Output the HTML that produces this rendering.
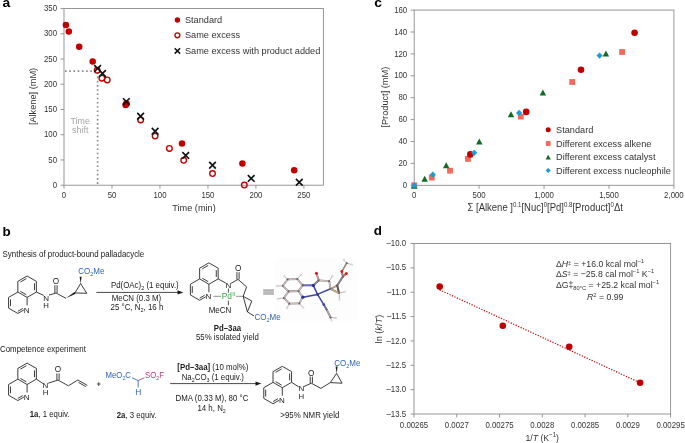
<!DOCTYPE html>
<html><head><meta charset="utf-8"><style>
html,body{margin:0;padding:0;background:#fff;}
body{width:685px;height:443px;overflow:hidden;}
svg{display:block;font-family:"Liberation Sans",sans-serif;will-change:transform;}
</style></head><body>
<svg width="685" height="443" viewBox="0 0 685 443">
<rect width="685" height="443" fill="#fff"/>
<rect x="64.0" y="8.55" width="259.4" height="176.64999999999998" fill="none" stroke="#8c8c8c" stroke-width="0.9"/>
<line x1="60.50" y1="185.20" x2="64.00" y2="185.20" stroke="#8c8c8c" stroke-width="0.9" />
<text transform="translate(57.00,187.80) scale(0.87,1)" font-size="9" text-anchor="end" fill="#333">0</text>
<line x1="60.50" y1="159.96" x2="64.00" y2="159.96" stroke="#8c8c8c" stroke-width="0.9" />
<text transform="translate(57.00,162.56) scale(0.87,1)" font-size="9" text-anchor="end" fill="#333">50</text>
<line x1="60.50" y1="134.73" x2="64.00" y2="134.73" stroke="#8c8c8c" stroke-width="0.9" />
<text transform="translate(57.00,137.33) scale(0.87,1)" font-size="9" text-anchor="end" fill="#333">100</text>
<line x1="60.50" y1="109.49" x2="64.00" y2="109.49" stroke="#8c8c8c" stroke-width="0.9" />
<text transform="translate(57.00,112.09) scale(0.87,1)" font-size="9" text-anchor="end" fill="#333">150</text>
<line x1="60.50" y1="84.26" x2="64.00" y2="84.26" stroke="#8c8c8c" stroke-width="0.9" />
<text transform="translate(57.00,86.86) scale(0.87,1)" font-size="9" text-anchor="end" fill="#333">200</text>
<line x1="60.50" y1="59.02" x2="64.00" y2="59.02" stroke="#8c8c8c" stroke-width="0.9" />
<text transform="translate(57.00,61.62) scale(0.87,1)" font-size="9" text-anchor="end" fill="#333">250</text>
<line x1="60.50" y1="33.79" x2="64.00" y2="33.79" stroke="#8c8c8c" stroke-width="0.9" />
<text transform="translate(57.00,36.39) scale(0.87,1)" font-size="9" text-anchor="end" fill="#333">300</text>
<line x1="60.50" y1="8.55" x2="64.00" y2="8.55" stroke="#8c8c8c" stroke-width="0.9" />
<text transform="translate(57.00,11.15) scale(0.87,1)" font-size="9" text-anchor="end" fill="#333">350</text>
<line x1="64.00" y1="185.20" x2="64.00" y2="188.70" stroke="#8c8c8c" stroke-width="0.9" />
<text transform="translate(64.00,198.20) scale(0.87,1)" font-size="9" text-anchor="middle" fill="#333">0</text>
<line x1="111.98" y1="185.20" x2="111.98" y2="188.70" stroke="#8c8c8c" stroke-width="0.9" />
<text transform="translate(111.98,198.20) scale(0.87,1)" font-size="9" text-anchor="middle" fill="#333">50</text>
<line x1="159.96" y1="185.20" x2="159.96" y2="188.70" stroke="#8c8c8c" stroke-width="0.9" />
<text transform="translate(159.96,198.20) scale(0.87,1)" font-size="9" text-anchor="middle" fill="#333">100</text>
<line x1="207.94" y1="185.20" x2="207.94" y2="188.70" stroke="#8c8c8c" stroke-width="0.9" />
<text transform="translate(207.94,198.20) scale(0.87,1)" font-size="9" text-anchor="middle" fill="#333">150</text>
<line x1="255.92" y1="185.20" x2="255.92" y2="188.70" stroke="#8c8c8c" stroke-width="0.9" />
<text transform="translate(255.92,198.20) scale(0.87,1)" font-size="9" text-anchor="middle" fill="#333">200</text>
<line x1="303.90" y1="185.20" x2="303.90" y2="188.70" stroke="#8c8c8c" stroke-width="0.9" />
<text transform="translate(303.90,198.20) scale(0.87,1)" font-size="9" text-anchor="middle" fill="#333">250</text>
<text transform="translate(194.00,211.00) scale(0.9300,1)" font-size="9.90" text-anchor="middle" fill="#333" >Time (min)</text>
<text transform="translate(36.2,96.5) rotate(-90) scale(0.9300,1)" font-size="9.90" text-anchor="middle" fill="#333">[Alkene] (mM)</text>
<path d="M65.0,71.1 H97.6 V185.2" fill="none" stroke="#888" stroke-width="1.6" stroke-dasharray="1.6 2.63"/>
<text transform="translate(80.20,124.20) scale(0.9300,1)" font-size="9.57" text-anchor="middle" fill="#a6a6a6" >Time</text>
<text transform="translate(80.20,133.40) scale(0.9300,1)" font-size="9.57" text-anchor="middle" fill="#a6a6a6" >shift</text>
<circle cx="65.90" cy="24.90" r="3.25" fill="#c00000"/>
<circle cx="68.80" cy="31.45" r="3.25" fill="#c00000"/>
<circle cx="79.20" cy="46.70" r="3.25" fill="#c00000"/>
<circle cx="92.70" cy="61.60" r="3.25" fill="#c00000"/>
<circle cx="125.60" cy="105.00" r="3.25" fill="#c00000"/>
<circle cx="182.00" cy="143.50" r="3.25" fill="#c00000"/>
<circle cx="242.40" cy="163.60" r="3.25" fill="#c00000"/>
<circle cx="294.20" cy="170.20" r="3.25" fill="#c00000"/>
<circle cx="97.20" cy="70.30" r="2.8" fill="none" stroke="#c00000" stroke-width="1.35"/>
<circle cx="101.90" cy="78.20" r="2.8" fill="none" stroke="#c00000" stroke-width="1.35"/>
<circle cx="107.20" cy="79.90" r="2.8" fill="none" stroke="#c00000" stroke-width="1.35"/>
<circle cx="126.40" cy="103.80" r="2.8" fill="none" stroke="#c00000" stroke-width="1.35"/>
<circle cx="140.60" cy="119.90" r="2.8" fill="none" stroke="#c00000" stroke-width="1.35"/>
<circle cx="155.10" cy="136.10" r="2.8" fill="none" stroke="#c00000" stroke-width="1.35"/>
<circle cx="169.40" cy="148.40" r="2.8" fill="none" stroke="#c00000" stroke-width="1.35"/>
<circle cx="183.70" cy="160.30" r="2.8" fill="none" stroke="#c00000" stroke-width="1.35"/>
<circle cx="212.50" cy="173.50" r="2.8" fill="none" stroke="#c00000" stroke-width="1.35"/>
<circle cx="244.30" cy="185.00" r="2.8" fill="none" stroke="#c00000" stroke-width="1.35"/>
<path d="M94.25,65.05L100.95,71.75M100.95,65.05L94.25,71.75" stroke="#111" stroke-width="1.65"/>
<path d="M99.15,70.15L105.85,76.85M105.85,70.15L99.15,76.85" stroke="#111" stroke-width="1.65"/>
<path d="M122.95,98.25L129.65,104.95M129.65,98.25L122.95,104.95" stroke="#111" stroke-width="1.65"/>
<path d="M137.25,112.95L143.95,119.65M143.95,112.95L137.25,119.65" stroke="#111" stroke-width="1.65"/>
<path d="M151.75,127.85L158.45,134.55M158.45,127.85L151.75,134.55" stroke="#111" stroke-width="1.65"/>
<path d="M182.35,152.05L189.05,158.75M189.05,152.05L182.35,158.75" stroke="#111" stroke-width="1.65"/>
<path d="M209.15,161.85L215.85,168.55M215.85,161.85L209.15,168.55" stroke="#111" stroke-width="1.65"/>
<path d="M247.85,175.05L254.55,181.75M254.55,175.05L247.85,181.75" stroke="#111" stroke-width="1.65"/>
<path d="M295.95,178.95L302.65,185.65M302.65,178.95L295.95,185.65" stroke="#111" stroke-width="1.65"/>
<circle cx="177.40" cy="20.00" r="2.7" fill="#c00000"/>
<text transform="translate(184.90,23.10) scale(0.9300,1)" font-size="9.90" text-anchor="start" fill="#333" >Standard</text>
<circle cx="177.40" cy="35.30" r="2.45" fill="none" stroke="#c00000" stroke-width="1.3"/>
<text transform="translate(184.90,38.10) scale(0.9300,1)" font-size="9.90" text-anchor="start" fill="#333" >Same excess</text>
<path d="M174.70,48.20L180.10,53.60M180.10,48.20L174.70,53.60" stroke="#111" stroke-width="1.5"/>
<text transform="translate(184.90,54.00) scale(0.9300,1)" font-size="9.90" text-anchor="start" fill="#333" >Same excess with product added</text>
<rect x="414.2" y="10.1" width="259.7" height="175.20000000000002" fill="none" stroke="#8c8c8c" stroke-width="0.9"/>
<line x1="410.70" y1="185.30" x2="414.20" y2="185.30" stroke="#8c8c8c" stroke-width="0.9" />
<text transform="translate(407.20,187.90) scale(0.87,1)" font-size="9" text-anchor="end" fill="#333">0</text>
<line x1="410.70" y1="163.40" x2="414.20" y2="163.40" stroke="#8c8c8c" stroke-width="0.9" />
<text transform="translate(407.20,166.00) scale(0.87,1)" font-size="9" text-anchor="end" fill="#333">20</text>
<line x1="410.70" y1="141.50" x2="414.20" y2="141.50" stroke="#8c8c8c" stroke-width="0.9" />
<text transform="translate(407.20,144.10) scale(0.87,1)" font-size="9" text-anchor="end" fill="#333">40</text>
<line x1="410.70" y1="119.60" x2="414.20" y2="119.60" stroke="#8c8c8c" stroke-width="0.9" />
<text transform="translate(407.20,122.20) scale(0.87,1)" font-size="9" text-anchor="end" fill="#333">60</text>
<line x1="410.70" y1="97.70" x2="414.20" y2="97.70" stroke="#8c8c8c" stroke-width="0.9" />
<text transform="translate(407.20,100.30) scale(0.87,1)" font-size="9" text-anchor="end" fill="#333">80</text>
<line x1="410.70" y1="75.80" x2="414.20" y2="75.80" stroke="#8c8c8c" stroke-width="0.9" />
<text transform="translate(407.20,78.40) scale(0.87,1)" font-size="9" text-anchor="end" fill="#333">100</text>
<line x1="410.70" y1="53.90" x2="414.20" y2="53.90" stroke="#8c8c8c" stroke-width="0.9" />
<text transform="translate(407.20,56.50) scale(0.87,1)" font-size="9" text-anchor="end" fill="#333">120</text>
<line x1="410.70" y1="32.00" x2="414.20" y2="32.00" stroke="#8c8c8c" stroke-width="0.9" />
<text transform="translate(407.20,34.60) scale(0.87,1)" font-size="9" text-anchor="end" fill="#333">140</text>
<line x1="410.70" y1="10.10" x2="414.20" y2="10.10" stroke="#8c8c8c" stroke-width="0.9" />
<text transform="translate(407.20,12.70) scale(0.87,1)" font-size="9" text-anchor="end" fill="#333">160</text>
<line x1="414.20" y1="185.30" x2="414.20" y2="188.80" stroke="#8c8c8c" stroke-width="0.9" />
<text transform="translate(414.20,198.40) scale(0.87,1)" font-size="9" text-anchor="middle" fill="#333">0</text>
<line x1="479.12" y1="185.30" x2="479.12" y2="188.80" stroke="#8c8c8c" stroke-width="0.9" />
<text transform="translate(479.12,198.40) scale(0.87,1)" font-size="9" text-anchor="middle" fill="#333">500</text>
<line x1="544.05" y1="185.30" x2="544.05" y2="188.80" stroke="#8c8c8c" stroke-width="0.9" />
<text transform="translate(544.05,198.40) scale(0.87,1)" font-size="9" text-anchor="middle" fill="#333">1,000</text>
<line x1="608.98" y1="185.30" x2="608.98" y2="188.80" stroke="#8c8c8c" stroke-width="0.9" />
<text transform="translate(608.98,198.40) scale(0.87,1)" font-size="9" text-anchor="middle" fill="#333">1,500</text>
<line x1="673.90" y1="185.30" x2="673.90" y2="188.80" stroke="#8c8c8c" stroke-width="0.9" />
<text transform="translate(673.90,198.40) scale(0.87,1)" font-size="9" text-anchor="middle" fill="#333">2,000</text>
<text transform="translate(545.2,210.5) scale(0.9300,1)" font-size="10.23" text-anchor="middle" fill="#333">Σ [Alkene ]<tspan font-size="6.60" dy="-3.85">0.1</tspan><tspan dy="3.85">[Nuc]</tspan><tspan font-size="6.60" dy="-3.85">0</tspan><tspan dy="3.85">[Pd]</tspan><tspan font-size="6.60" dy="-3.85">0.8</tspan><tspan dy="3.85">[Product]</tspan><tspan font-size="6.60" dy="-3.85">0</tspan><tspan dy="3.85">Δt</tspan></text>
<text transform="translate(387.9,97.2) rotate(-90) scale(0.9300,1)" font-size="9.90" text-anchor="middle" fill="#333">[Product] (mM)</text>
<rect x="411.30" y="182.40" width="5.8" height="5.8" fill="#f4695c"/>
<rect x="428.90" y="174.70" width="5.8" height="5.8" fill="#f4695c"/>
<rect x="447.10" y="167.80" width="5.8" height="5.8" fill="#f4695c"/>
<rect x="465.00" y="156.00" width="5.8" height="5.8" fill="#f4695c"/>
<rect x="517.90" y="113.70" width="5.8" height="5.8" fill="#f4695c"/>
<rect x="569.30" y="79.10" width="5.8" height="5.8" fill="#f4695c"/>
<rect x="619.20" y="49.10" width="5.8" height="5.8" fill="#f4695c"/>
<path d="M414.20,182.75L417.45,188.76L410.95,188.76Z" fill="#126b22"/>
<path d="M424.70,175.75L427.95,181.76L421.45,181.76Z" fill="#126b22"/>
<path d="M446.20,162.35L449.45,168.36L442.95,168.36Z" fill="#126b22"/>
<path d="M479.30,138.55L482.55,144.56L476.05,144.56Z" fill="#126b22"/>
<path d="M511.00,111.35L514.25,117.36L507.75,117.36Z" fill="#126b22"/>
<path d="M542.90,89.55L546.15,95.56L539.65,95.56Z" fill="#126b22"/>
<path d="M605.90,50.45L609.15,56.46L602.65,56.46Z" fill="#126b22"/>
<circle cx="470.30" cy="154.40" r="3.3" fill="#c00000"/>
<circle cx="526.20" cy="111.90" r="3.3" fill="#c00000"/>
<circle cx="581.00" cy="69.80" r="3.3" fill="#c00000"/>
<circle cx="634.60" cy="32.80" r="3.3" fill="#c00000"/>
<path d="M414.30,182.50L417.40,185.60L414.30,188.70L411.20,185.60Z" fill="#1b9bd8"/>
<path d="M432.80,171.60L435.90,174.70L432.80,177.80L429.70,174.70Z" fill="#1b9bd8"/>
<path d="M474.20,149.70L477.30,152.80L474.20,155.90L471.10,152.80Z" fill="#1b9bd8"/>
<path d="M519.10,109.80L522.20,112.90L519.10,116.00L516.00,112.90Z" fill="#1b9bd8"/>
<path d="M599.60,52.50L602.70,55.60L599.60,58.70L596.50,55.60Z" fill="#1b9bd8"/>
<circle cx="548.20" cy="129.80" r="2.5" fill="#c00000"/>
<text transform="translate(556.00,133.00) scale(0.9300,1)" font-size="9.90" text-anchor="start" fill="#333" >Standard</text>
<rect x="545.80" y="141.10" width="4.8" height="4.8" fill="#f4695c"/>
<text transform="translate(556.00,146.70) scale(0.9300,1)" font-size="9.90" text-anchor="start" fill="#333" >Different excess alkene</text>
<path d="M548.20,154.80L550.80,159.61L545.60,159.61Z" fill="#126b22"/>
<text transform="translate(556.00,160.40) scale(0.9300,1)" font-size="9.90" text-anchor="start" fill="#333" >Different excess catalyst</text>
<path d="M548.20,167.90L550.80,170.50L548.20,173.10L545.60,170.50Z" fill="#1b9bd8"/>
<text transform="translate(556.00,173.70) scale(0.9300,1)" font-size="9.90" text-anchor="start" fill="#333" >Different excess nucleophile</text>
<rect x="414.0" y="243.5" width="256.6" height="170.5" fill="none" stroke="#8c8c8c" stroke-width="0.9"/>
<line x1="410.50" y1="414.00" x2="414.00" y2="414.00" stroke="#8c8c8c" stroke-width="0.9" />
<text transform="translate(406.00,416.60) scale(0.87,1)" font-size="9" text-anchor="end" fill="#333">–13.5</text>
<line x1="410.50" y1="389.64" x2="414.00" y2="389.64" stroke="#8c8c8c" stroke-width="0.9" />
<text transform="translate(406.00,392.24) scale(0.87,1)" font-size="9" text-anchor="end" fill="#333">–13.0</text>
<line x1="410.50" y1="365.29" x2="414.00" y2="365.29" stroke="#8c8c8c" stroke-width="0.9" />
<text transform="translate(406.00,367.89) scale(0.87,1)" font-size="9" text-anchor="end" fill="#333">–12.5</text>
<line x1="410.50" y1="340.93" x2="414.00" y2="340.93" stroke="#8c8c8c" stroke-width="0.9" />
<text transform="translate(406.00,343.53) scale(0.87,1)" font-size="9" text-anchor="end" fill="#333">–12.0</text>
<line x1="410.50" y1="316.57" x2="414.00" y2="316.57" stroke="#8c8c8c" stroke-width="0.9" />
<text transform="translate(406.00,319.17) scale(0.87,1)" font-size="9" text-anchor="end" fill="#333">–11.5</text>
<line x1="410.50" y1="292.21" x2="414.00" y2="292.21" stroke="#8c8c8c" stroke-width="0.9" />
<text transform="translate(406.00,294.81) scale(0.87,1)" font-size="9" text-anchor="end" fill="#333">–11.0</text>
<line x1="410.50" y1="267.86" x2="414.00" y2="267.86" stroke="#8c8c8c" stroke-width="0.9" />
<text transform="translate(406.00,270.46) scale(0.87,1)" font-size="9" text-anchor="end" fill="#333">–10.5</text>
<line x1="410.50" y1="243.50" x2="414.00" y2="243.50" stroke="#8c8c8c" stroke-width="0.9" />
<text transform="translate(406.00,246.10) scale(0.87,1)" font-size="9" text-anchor="end" fill="#333">–10.0</text>
<line x1="414.00" y1="414.00" x2="414.00" y2="417.50" stroke="#8c8c8c" stroke-width="0.9" />
<text transform="translate(414.00,427.60) scale(0.87,1)" font-size="9" text-anchor="middle" fill="#333">0.00265</text>
<line x1="456.77" y1="414.00" x2="456.77" y2="417.50" stroke="#8c8c8c" stroke-width="0.9" />
<text transform="translate(456.77,427.60) scale(0.87,1)" font-size="9" text-anchor="middle" fill="#333">0.0027</text>
<line x1="499.53" y1="414.00" x2="499.53" y2="417.50" stroke="#8c8c8c" stroke-width="0.9" />
<text transform="translate(499.53,427.60) scale(0.87,1)" font-size="9" text-anchor="middle" fill="#333">0.00275</text>
<line x1="542.30" y1="414.00" x2="542.30" y2="417.50" stroke="#8c8c8c" stroke-width="0.9" />
<text transform="translate(542.30,427.60) scale(0.87,1)" font-size="9" text-anchor="middle" fill="#333">0.0028</text>
<line x1="585.07" y1="414.00" x2="585.07" y2="417.50" stroke="#8c8c8c" stroke-width="0.9" />
<text transform="translate(585.07,427.60) scale(0.87,1)" font-size="9" text-anchor="middle" fill="#333">0.00285</text>
<line x1="627.83" y1="414.00" x2="627.83" y2="417.50" stroke="#8c8c8c" stroke-width="0.9" />
<text transform="translate(627.83,427.60) scale(0.87,1)" font-size="9" text-anchor="middle" fill="#333">0.0029</text>
<line x1="670.60" y1="414.00" x2="670.60" y2="417.50" stroke="#8c8c8c" stroke-width="0.9" />
<text transform="translate(670.60,427.60) scale(0.87,1)" font-size="9" text-anchor="middle" fill="#333">0.00295</text>
<text transform="translate(542.2,441.2) scale(0.9300,1)" font-size="9.35" text-anchor="middle" fill="#333">1/<tspan font-style="italic">T</tspan> (K<tspan font-size="6.60" dy="-3.85">−1</tspan><tspan dy="3.85">)</tspan></text>
<text transform="translate(382.1,329.1) rotate(-90) scale(0.9300,1)" font-size="9.90" text-anchor="middle" fill="#333">ln (<tspan font-style="italic">k</tspan>/<tspan font-style="italic">T</tspan>)</text>
<line x1="439.7" y1="289.9" x2="640.1" y2="382.8" stroke="#c00000" stroke-width="1.2" stroke-dasharray="1.2 1.5"/>
<circle cx="439.70" cy="286.60" r="3.3" fill="#c00000"/>
<circle cx="502.80" cy="325.70" r="3.3" fill="#c00000"/>
<circle cx="569.20" cy="346.70" r="3.3" fill="#c00000"/>
<circle cx="640.10" cy="382.80" r="3.3" fill="#c00000"/>
<text transform="translate(555.9,266.8) scale(0.9630,1)" font-size="9.07" fill="#333">Δ<tspan font-style="italic">H</tspan><tspan font-size="6.05" dy="-1.94">‡</tspan><tspan dy="1.94"> = +16.0 kcal mol</tspan><tspan font-size="5.94" dy="-3.56">−1</tspan></text>
<text transform="translate(555.9,276.9) scale(0.9630,1)" font-size="9.07" fill="#333">Δ<tspan font-style="italic">S</tspan><tspan font-size="6.05" dy="-1.94">‡</tspan><tspan dy="1.94"> = −25.8 cal mol</tspan><tspan font-size="5.94" dy="-3.56">−1</tspan><tspan dy="3.56"> K</tspan><tspan font-size="5.94" dy="-3.56">−1</tspan></text>
<text transform="translate(555.9,287.6) scale(0.9630,1)" font-size="9.07" fill="#333">ΔG‡<tspan font-size="5.94" dy="2.81">80°C</tspan><tspan dy="-2.81"> = +25.2 kcal mol</tspan><tspan font-size="5.94" dy="-3.56">−1</tspan></text>
<text transform="translate(587,300.2) scale(0.9630,1)" font-size="9.07" fill="#333"><tspan font-style="italic">R</tspan><tspan font-size="5.94" dy="-3.56">2</tspan><tspan dy="3.56"> = 0.99</tspan></text>
<g transform="translate(2.4,6.9) scale(1.1,1)"><text font-size="12.6" font-weight="bold" fill="#000">a</text></g>
<g transform="translate(374.2,7.1) scale(1.1,1)"><text font-size="12.6" font-weight="bold" fill="#000">c</text></g>
<g transform="translate(2.6,235.9) scale(1.1,1)"><text font-size="12.2" font-weight="bold" fill="#000">b</text></g>
<g transform="translate(373.8,235.4) scale(1.1,1)"><text font-size="12.2" font-weight="bold" fill="#000">d</text></g>
<text transform="translate(2.60,256.70) scale(0.8929,1)" font-size="8.85" text-anchor="start" fill="#1a1a1a" >Synthesis of product-bound palladacycle</text>
<rect x="275.1" y="257.9" width="82" height="63" fill="#fdfdfd"/>
<path d="M27.10,276.00 L36.37,281.35 L36.37,292.05 L27.10,297.40 L17.83,292.05 L17.83,281.35 Z" fill="none" stroke="#1a1a1a" stroke-width="0.85" stroke-linejoin="round"/>
<path d="M17.83,292.05 L8.57,297.40 L8.57,308.10 L17.83,313.45" fill="none" stroke="#1a1a1a" stroke-width="0.85" stroke-linejoin="round"/>
<line x1="17.83" y1="313.45" x2="23.98" y2="309.90" stroke="#1a1a1a" stroke-width="0.85" />
<line x1="27.10" y1="297.40" x2="27.10" y2="305.40" stroke="#1a1a1a" stroke-width="0.85" />
<line x1="20.45" y1="282.03" x2="26.38" y2="278.61" stroke="#1a1a1a" stroke-width="0.85" />
<line x1="34.47" y1="283.28" x2="34.47" y2="290.12" stroke="#1a1a1a" stroke-width="0.85" />
<line x1="26.38" y1="294.79" x2="20.45" y2="291.37" stroke="#1a1a1a" stroke-width="0.85" />
<line x1="10.47" y1="299.33" x2="10.47" y2="306.17" stroke="#1a1a1a" stroke-width="0.85" />
<line x1="17.83" y1="311.30" x2="22.75" y2="308.46" stroke="#1a1a1a" stroke-width="0.85" />
<text x="26.70" y="312.50" font-size="8" text-anchor="middle" fill="#1a1a1a" >N</text>
<line x1="36.37" y1="292.05" x2="43.70" y2="295.40" stroke="#1a1a1a" stroke-width="0.85" />
<text x="46.20" y="301.40" font-size="8" text-anchor="middle" fill="#1a1a1a" >N</text>
<text x="46.10" y="308.00" font-size="7.8" text-anchor="middle" fill="#1a1a1a" >H</text>
<line x1="49.00" y1="295.10" x2="56.00" y2="293.00" stroke="#1a1a1a" stroke-width="0.85" />
<line x1="54.90" y1="293.00" x2="54.90" y2="285.20" stroke="#1a1a1a" stroke-width="0.85" />
<line x1="57.10" y1="293.00" x2="57.10" y2="285.20" stroke="#1a1a1a" stroke-width="0.85" />
<text x="55.90" y="283.90" font-size="8.2" text-anchor="middle" fill="#1a1a1a" >O</text>
<line x1="56.00" y1="293.00" x2="65.90" y2="298.30" stroke="#1a1a1a" stroke-width="0.85" />
<path d="M65.90,298.30 L75.56,293.85 L74.44,291.95 Z" fill="#1a1a1a"/>
<path d="M75.00,292.90 L80.60,283.50 L86.80,293.30 Z" fill="none" stroke="#1a1a1a" stroke-width="0.85" stroke-linejoin="round"/>
<path d="M80.60,283.50 L81.60,276.80 L79.60,276.80 Z" fill="#1a1a1a"/>
<text transform="translate(78.3,274.3) scale(0.8929,1)" font-size="8.96" fill="#2f62b5">CO<tspan font-size="6.16" dy="2.02">2</tspan><tspan dy="-2.02">Me</tspan></text>
<line x1="96.40" y1="292.40" x2="179.00" y2="292.40" stroke="#1a1a1a" stroke-width="0.8" />
<path d="M183.3,292.4 L177.5,290.3 L177.5,294.5 Z" fill="#1a1a1a"/>
<text transform="translate(110.9,288.3) scale(0.8929,1)" font-size="8.85" fill="#1a1a1a">Pd(OAc)<tspan font-size="6.16" dy="2.02">2</tspan><tspan dy="-2.02"> (1 equiv.)</tspan></text>
<text transform="translate(111.70,301.20) scale(0.8929,1)" font-size="8.85" text-anchor="start" fill="#1a1a1a" >MeCN (0.3 M)</text>
<text transform="translate(110.6,310) scale(0.8929,1)" font-size="8.85" fill="#1a1a1a">25 °C, N<tspan font-size="6.16" dy="2.02">2</tspan><tspan dy="-2.02">, 16 h</tspan></text>
<path d="M208.90,262.85 L218.17,268.20 L218.17,278.90 L208.90,284.25 L199.63,278.90 L199.63,268.20 Z" fill="none" stroke="#1a1a1a" stroke-width="0.85" stroke-linejoin="round"/>
<path d="M199.63,278.90 L190.37,284.25 L190.37,294.95 L199.63,300.30" fill="none" stroke="#1a1a1a" stroke-width="0.85" stroke-linejoin="round"/>
<line x1="199.63" y1="300.30" x2="205.78" y2="296.75" stroke="#1a1a1a" stroke-width="0.85" />
<line x1="208.90" y1="284.25" x2="208.90" y2="292.25" stroke="#1a1a1a" stroke-width="0.85" />
<line x1="202.25" y1="268.88" x2="208.18" y2="265.46" stroke="#1a1a1a" stroke-width="0.85" />
<line x1="216.27" y1="270.13" x2="216.27" y2="276.97" stroke="#1a1a1a" stroke-width="0.85" />
<line x1="208.18" y1="281.64" x2="202.25" y2="278.22" stroke="#1a1a1a" stroke-width="0.85" />
<line x1="192.27" y1="286.18" x2="192.27" y2="293.02" stroke="#1a1a1a" stroke-width="0.85" />
<line x1="199.63" y1="298.15" x2="204.55" y2="295.31" stroke="#1a1a1a" stroke-width="0.85" />
<text x="208.50" y="299.35" font-size="8" text-anchor="middle" fill="#1a1a1a" >N</text>
<line x1="218.17" y1="278.90" x2="225.80" y2="283.10" stroke="#1a1a1a" stroke-width="0.85" />
<text x="228.40" y="288.00" font-size="8" text-anchor="middle" fill="#1a1a1a" >N</text>
<line x1="231.10" y1="283.30" x2="238.00" y2="279.40" stroke="#1a1a1a" stroke-width="0.85" />
<line x1="236.90" y1="279.40" x2="236.90" y2="272.20" stroke="#1a1a1a" stroke-width="0.85" />
<line x1="239.10" y1="279.40" x2="239.10" y2="272.20" stroke="#1a1a1a" stroke-width="0.85" />
<text x="238.10" y="270.90" font-size="8.2" text-anchor="middle" fill="#1a1a1a" >O</text>
<line x1="238.00" y1="279.40" x2="246.60" y2="286.80" stroke="#1a1a1a" stroke-width="0.85" />
<line x1="246.60" y1="286.80" x2="243.20" y2="296.30" stroke="#1a1a1a" stroke-width="0.85" />
<line x1="213.30" y1="296.30" x2="221.00" y2="296.30" stroke="#777" stroke-width="0.8" />
<line x1="228.40" y1="288.60" x2="228.40" y2="292.60" stroke="#1a1a1a" stroke-width="0.75" />
<line x1="236.00" y1="296.30" x2="243.20" y2="296.30" stroke="#777" stroke-width="0.8" />
<text transform="translate(221.7,299.3) scale(0.8929,1)" font-size="9.41" fill="#3aa84a">Pd<tspan font-size="6.16" dy="-3.58" dx="0.4">II</tspan></text>
<line x1="228.40" y1="300.60" x2="228.40" y2="305.20" stroke="#1a1a1a" stroke-width="0.75" />
<text transform="translate(220.00,312.60) scale(0.8929,1)" font-size="8.96" text-anchor="middle" fill="#1a1a1a" >MeCN</text>
<path d="M243.20,296.30 L251.80,301.00 L247.40,311.90 Z" fill="none" stroke="#1a1a1a" stroke-width="0.85" stroke-linejoin="round"/>
<line x1="247.40" y1="311.90" x2="254.00" y2="316.00" stroke="#1a1a1a" stroke-width="0.85" />
<text transform="translate(254.5,320.1) scale(0.8929,1)" font-size="8.96" fill="#2f62b5">CO<tspan font-size="6.16" dy="2.02">2</tspan><tspan dy="-2.02">Me</tspan></text>
<text transform="translate(227.40,331.00) scale(0.8929,1)" font-size="8.74" text-anchor="middle" fill="#1a1a1a" font-weight="bold" >Pd–3aa</text>
<text transform="translate(227.40,340.20) scale(0.8929,1)" font-size="8.74" text-anchor="middle" fill="#1a1a1a" >55% isolated yield</text>
<line x1="263.20" y1="290.10" x2="273.90" y2="290.10" stroke="#959595" stroke-width="1.25" />
<line x1="263.20" y1="292.05" x2="273.90" y2="292.05" stroke="#959595" stroke-width="1.25" />
<line x1="263.20" y1="294.00" x2="273.90" y2="294.00" stroke="#959595" stroke-width="1.25" />
<line x1="287.70" y1="279.40" x2="284.30" y2="276.20" stroke="#b8aeae" stroke-width="0.9" stroke-linecap="round"/>
<circle cx="284.30" cy="276.20" r="0.9" fill="#f0eeee" stroke="#c4bcbc" stroke-width="0.4"/>
<line x1="297.30" y1="279.00" x2="300.80" y2="274.80" stroke="#b8aeae" stroke-width="0.9" stroke-linecap="round"/>
<circle cx="300.80" cy="274.80" r="0.9" fill="#f0eeee" stroke="#c4bcbc" stroke-width="0.4"/>
<line x1="282.80" y1="285.80" x2="276.80" y2="286.00" stroke="#b8aeae" stroke-width="0.9" stroke-linecap="round"/>
<circle cx="276.80" cy="286.00" r="0.9" fill="#f0eeee" stroke="#c4bcbc" stroke-width="0.4"/>
<line x1="283.90" y1="298.00" x2="277.90" y2="298.70" stroke="#b8aeae" stroke-width="0.9" stroke-linecap="round"/>
<circle cx="277.90" cy="298.70" r="0.9" fill="#f0eeee" stroke="#c4bcbc" stroke-width="0.4"/>
<line x1="289.30" y1="303.70" x2="287.00" y2="308.00" stroke="#b8aeae" stroke-width="0.9" stroke-linecap="round"/>
<circle cx="287.00" cy="308.00" r="0.9" fill="#f0eeee" stroke="#c4bcbc" stroke-width="0.4"/>
<line x1="299.30" y1="303.40" x2="303.10" y2="307.60" stroke="#b8aeae" stroke-width="0.9" stroke-linecap="round"/>
<circle cx="303.10" cy="307.60" r="0.9" fill="#f0eeee" stroke="#c4bcbc" stroke-width="0.4"/>
<line x1="329.20" y1="281.20" x2="332.50" y2="276.00" stroke="#b8aeae" stroke-width="0.9" stroke-linecap="round"/>
<circle cx="332.50" cy="276.00" r="0.9" fill="#f0eeee" stroke="#c4bcbc" stroke-width="0.4"/>
<line x1="339.10" y1="293.10" x2="344.80" y2="291.70" stroke="#b8aeae" stroke-width="0.9" stroke-linecap="round"/>
<circle cx="344.80" cy="291.70" r="0.9" fill="#f0eeee" stroke="#c4bcbc" stroke-width="0.4"/>
<line x1="339.10" y1="293.10" x2="339.60" y2="299.50" stroke="#b8aeae" stroke-width="0.9" stroke-linecap="round"/>
<circle cx="339.60" cy="299.50" r="0.9" fill="#f0eeee" stroke="#c4bcbc" stroke-width="0.4"/>
<line x1="346.70" y1="263.20" x2="343.90" y2="259.90" stroke="#b8aeae" stroke-width="0.9" stroke-linecap="round"/>
<circle cx="343.90" cy="259.90" r="0.9" fill="#f0eeee" stroke="#c4bcbc" stroke-width="0.4"/>
<line x1="346.70" y1="263.20" x2="352.00" y2="264.60" stroke="#b8aeae" stroke-width="0.9" stroke-linecap="round"/>
<circle cx="352.00" cy="264.60" r="0.9" fill="#f0eeee" stroke="#c4bcbc" stroke-width="0.4"/>
<line x1="330.50" y1="317.40" x2="335.90" y2="318.00" stroke="#b8aeae" stroke-width="0.9" stroke-linecap="round"/>
<circle cx="335.90" cy="318.00" r="0.9" fill="#f0eeee" stroke="#c4bcbc" stroke-width="0.4"/>
<line x1="330.50" y1="317.40" x2="331.50" y2="320.50" stroke="#b8aeae" stroke-width="0.9" stroke-linecap="round"/>
<circle cx="331.50" cy="320.50" r="0.9" fill="#f0eeee" stroke="#c4bcbc" stroke-width="0.4"/>
<line x1="287.70" y1="279.40" x2="297.30" y2="279.00" stroke="#8a8080" stroke-width="1.85" stroke-linecap="round"/>
<line x1="287.70" y1="279.40" x2="297.30" y2="279.00" stroke="#cdbfbf" stroke-width="1.3" stroke-linecap="round"/>
<line x1="297.30" y1="279.00" x2="302.70" y2="285.30" stroke="#8a8080" stroke-width="1.85" stroke-linecap="round"/>
<line x1="297.30" y1="279.00" x2="302.70" y2="285.30" stroke="#cdbfbf" stroke-width="1.3" stroke-linecap="round"/>
<line x1="298.50" y1="291.10" x2="288.50" y2="291.40" stroke="#8a8080" stroke-width="1.85" stroke-linecap="round"/>
<line x1="298.50" y1="291.10" x2="288.50" y2="291.40" stroke="#cdbfbf" stroke-width="1.3" stroke-linecap="round"/>
<line x1="288.50" y1="291.40" x2="282.80" y2="285.80" stroke="#8a8080" stroke-width="1.85" stroke-linecap="round"/>
<line x1="288.50" y1="291.40" x2="282.80" y2="285.80" stroke="#cdbfbf" stroke-width="1.3" stroke-linecap="round"/>
<line x1="282.80" y1="285.80" x2="287.70" y2="279.40" stroke="#8a8080" stroke-width="1.85" stroke-linecap="round"/>
<line x1="282.80" y1="285.80" x2="287.70" y2="279.40" stroke="#cdbfbf" stroke-width="1.3" stroke-linecap="round"/>
<line x1="288.50" y1="291.40" x2="298.50" y2="291.10" stroke="#8a8080" stroke-width="1.85" stroke-linecap="round"/>
<line x1="288.50" y1="291.40" x2="298.50" y2="291.10" stroke="#cdbfbf" stroke-width="1.3" stroke-linecap="round"/>
<line x1="298.50" y1="291.10" x2="302.70" y2="297.20" stroke="#8a8080" stroke-width="1.85" stroke-linecap="round"/>
<line x1="298.50" y1="291.10" x2="302.70" y2="297.20" stroke="#cdbfbf" stroke-width="1.3" stroke-linecap="round"/>
<line x1="302.70" y1="297.20" x2="299.30" y2="303.40" stroke="#8a8080" stroke-width="1.85" stroke-linecap="round"/>
<line x1="302.70" y1="297.20" x2="299.30" y2="303.40" stroke="#cdbfbf" stroke-width="1.3" stroke-linecap="round"/>
<line x1="299.30" y1="303.40" x2="289.30" y2="303.70" stroke="#8a8080" stroke-width="1.85" stroke-linecap="round"/>
<line x1="299.30" y1="303.40" x2="289.30" y2="303.70" stroke="#cdbfbf" stroke-width="1.3" stroke-linecap="round"/>
<line x1="289.30" y1="303.70" x2="283.90" y2="298.00" stroke="#8a8080" stroke-width="1.85" stroke-linecap="round"/>
<line x1="289.30" y1="303.70" x2="283.90" y2="298.00" stroke="#cdbfbf" stroke-width="1.3" stroke-linecap="round"/>
<line x1="283.90" y1="298.00" x2="288.50" y2="291.40" stroke="#8a8080" stroke-width="1.85" stroke-linecap="round"/>
<line x1="283.90" y1="298.00" x2="288.50" y2="291.40" stroke="#cdbfbf" stroke-width="1.3" stroke-linecap="round"/>
<line x1="302.70" y1="285.30" x2="298.50" y2="291.10" stroke="#8a8080" stroke-width="1.85" stroke-linecap="round"/>
<line x1="302.70" y1="285.30" x2="298.50" y2="291.10" stroke="#cdbfbf" stroke-width="1.3" stroke-linecap="round"/>
<line x1="317.5" y1="294.4" x2="313.3" y2="285.4" stroke="#4044a4" stroke-width="1.5" stroke-linecap="round"/>
<line x1="317.5" y1="294.4" x2="302.9" y2="297.2" stroke="#4044a4" stroke-width="1.5" stroke-linecap="round"/>
<line x1="317.5" y1="294.4" x2="330.6" y2="288.8" stroke="#4044a4" stroke-width="1.5" stroke-linecap="round"/>
<line x1="317.5" y1="294.4" x2="323.8" y2="304.6" stroke="#4044a4" stroke-width="1.5" stroke-linecap="round"/>
<line x1="302.70" y1="285.30" x2="313.30" y2="285.40" stroke="#3b3f9e" stroke-width="1.85" stroke-linecap="round"/>
<line x1="302.70" y1="285.30" x2="313.30" y2="285.40" stroke="#6d6cb8" stroke-width="1.3" stroke-linecap="round"/>
<line x1="313.30" y1="285.40" x2="318.80" y2="280.30" stroke="#555" stroke-width="1.85" stroke-linecap="round"/>
<line x1="313.30" y1="285.40" x2="318.80" y2="280.30" stroke="#8c88c0" stroke-width="1.3" stroke-linecap="round"/>
<line x1="318.80" y1="280.30" x2="316.40" y2="273.30" stroke="#806060" stroke-width="1.85" stroke-linecap="round"/>
<line x1="318.80" y1="280.30" x2="316.40" y2="273.30" stroke="#c8a0a0" stroke-width="1.3" stroke-linecap="round"/>
<line x1="318.80" y1="280.30" x2="329.20" y2="281.20" stroke="#8a8080" stroke-width="1.85" stroke-linecap="round"/>
<line x1="318.80" y1="280.30" x2="329.20" y2="281.20" stroke="#cdbfbf" stroke-width="1.3" stroke-linecap="round"/>
<line x1="329.20" y1="281.20" x2="330.60" y2="288.80" stroke="#8a8080" stroke-width="1.85" stroke-linecap="round"/>
<line x1="329.20" y1="281.20" x2="330.60" y2="288.80" stroke="#cdbfbf" stroke-width="1.3" stroke-linecap="round"/>
<line x1="330.60" y1="288.80" x2="337.20" y2="285.50" stroke="#8a8080" stroke-width="1.85" stroke-linecap="round"/>
<line x1="330.60" y1="288.80" x2="337.20" y2="285.50" stroke="#c8a878" stroke-width="1.3" stroke-linecap="round"/>
<line x1="337.20" y1="285.50" x2="339.10" y2="293.10" stroke="#333" stroke-width="1.85" stroke-linecap="round"/>
<line x1="337.20" y1="285.50" x2="339.10" y2="293.10" stroke="#6a5a4a" stroke-width="1.3" stroke-linecap="round"/>
<line x1="330.60" y1="288.80" x2="339.10" y2="293.10" stroke="#8a8080" stroke-width="1.85" stroke-linecap="round"/>
<line x1="330.60" y1="288.80" x2="339.10" y2="293.10" stroke="#c8a878" stroke-width="1.3" stroke-linecap="round"/>
<line x1="337.20" y1="285.50" x2="342.90" y2="276.50" stroke="#555" stroke-width="1.85" stroke-linecap="round"/>
<line x1="337.20" y1="285.50" x2="342.90" y2="276.50" stroke="#9a9090" stroke-width="1.3" stroke-linecap="round"/>
<line x1="342.90" y1="276.50" x2="341.80" y2="271.50" stroke="#904040" stroke-width="1.75" stroke-linecap="round"/>
<line x1="342.90" y1="276.50" x2="341.80" y2="271.50" stroke="#c08080" stroke-width="1.2" stroke-linecap="round"/>
<line x1="342.90" y1="276.50" x2="346.30" y2="273.60" stroke="#904040" stroke-width="1.75" stroke-linecap="round"/>
<line x1="342.90" y1="276.50" x2="346.30" y2="273.60" stroke="#c08080" stroke-width="1.2" stroke-linecap="round"/>
<line x1="341.80" y1="271.50" x2="346.70" y2="263.20" stroke="#806060" stroke-width="1.4500000000000002" stroke-linecap="round"/>
<line x1="341.80" y1="271.50" x2="346.70" y2="263.20" stroke="#b09595" stroke-width="0.9" stroke-linecap="round"/>
<line x1="323.80" y1="304.60" x2="326.70" y2="309.60" stroke="#3b3f9e" stroke-width="1.85" stroke-linecap="round"/>
<line x1="323.80" y1="304.60" x2="326.70" y2="309.60" stroke="#7a78b8" stroke-width="1.3" stroke-linecap="round"/>
<line x1="326.70" y1="309.60" x2="330.50" y2="317.40" stroke="#666" stroke-width="1.85" stroke-linecap="round"/>
<line x1="326.70" y1="309.60" x2="330.50" y2="317.40" stroke="#b0a8a8" stroke-width="1.3" stroke-linecap="round"/>
<circle cx="313.3" cy="285.4" r="1.6" fill="#2b2f9a"/>
<circle cx="302.9" cy="297.2" r="1.6" fill="#2b2f9a"/>
<circle cx="316.4" cy="273.3" r="1.5" fill="#e01818"/>
<circle cx="341.8" cy="271.5" r="1.4" fill="#e01818"/>
<circle cx="346.3" cy="273.6" r="1.5" fill="#e01818"/>
<circle cx="323.8" cy="304.6" r="1.3" fill="#3b3f9e"/>
<circle cx="317.5" cy="294.4" r="1.3" fill="#3a3a80"/>
<circle cx="287.70" cy="279.40" r="0.9" fill="#6a5f5f"/>
<circle cx="297.30" cy="279.00" r="0.9" fill="#6a5f5f"/>
<circle cx="302.70" cy="285.30" r="0.9" fill="#6a5f5f"/>
<circle cx="298.50" cy="291.10" r="0.9" fill="#6a5f5f"/>
<circle cx="288.50" cy="291.40" r="0.9" fill="#6a5f5f"/>
<circle cx="282.80" cy="285.80" r="0.9" fill="#6a5f5f"/>
<circle cx="299.30" cy="303.40" r="0.9" fill="#6a5f5f"/>
<circle cx="289.30" cy="303.70" r="0.9" fill="#6a5f5f"/>
<circle cx="283.90" cy="298.00" r="0.9" fill="#6a5f5f"/>
<circle cx="318.80" cy="280.30" r="0.9" fill="#6a5f5f"/>
<circle cx="329.20" cy="281.20" r="0.9" fill="#6a5f5f"/>
<circle cx="330.60" cy="288.80" r="0.9" fill="#6a5f5f"/>
<circle cx="337.20" cy="285.50" r="0.9" fill="#6a5f5f"/>
<circle cx="339.10" cy="293.10" r="0.9" fill="#6a5f5f"/>
<circle cx="342.90" cy="276.50" r="0.9" fill="#6a5f5f"/>
<circle cx="346.70" cy="263.20" r="0.9" fill="#6a5f5f"/>
<circle cx="326.70" cy="309.60" r="0.9" fill="#6a5f5f"/>
<circle cx="330.50" cy="317.40" r="0.9" fill="#6a5f5f"/>
<text transform="translate(0.00,351.80) scale(0.8929,1)" font-size="8.85" text-anchor="start" fill="#1a1a1a" >Competence experiment</text>
<path d="M27.10,363.10 L36.37,368.45 L36.37,379.15 L27.10,384.50 L17.83,379.15 L17.83,368.45 Z" fill="none" stroke="#1a1a1a" stroke-width="0.85" stroke-linejoin="round"/>
<path d="M17.83,379.15 L8.57,384.50 L8.57,395.20 L17.83,400.55" fill="none" stroke="#1a1a1a" stroke-width="0.85" stroke-linejoin="round"/>
<line x1="17.83" y1="400.55" x2="23.98" y2="397.00" stroke="#1a1a1a" stroke-width="0.85" />
<line x1="27.10" y1="384.50" x2="27.10" y2="392.50" stroke="#1a1a1a" stroke-width="0.85" />
<line x1="20.45" y1="369.13" x2="26.38" y2="365.71" stroke="#1a1a1a" stroke-width="0.85" />
<line x1="34.47" y1="370.38" x2="34.47" y2="377.22" stroke="#1a1a1a" stroke-width="0.85" />
<line x1="26.38" y1="381.89" x2="20.45" y2="378.47" stroke="#1a1a1a" stroke-width="0.85" />
<line x1="10.47" y1="386.43" x2="10.47" y2="393.27" stroke="#1a1a1a" stroke-width="0.85" />
<line x1="17.83" y1="398.40" x2="22.75" y2="395.56" stroke="#1a1a1a" stroke-width="0.85" />
<text x="26.70" y="399.60" font-size="8" text-anchor="middle" fill="#1a1a1a" >N</text>
<line x1="36.37" y1="379.15" x2="42.90" y2="383.50" stroke="#1a1a1a" stroke-width="0.85" />
<text x="45.40" y="388.30" font-size="8" text-anchor="middle" fill="#1a1a1a" >N</text>
<text x="45.50" y="395.10" font-size="7.8" text-anchor="middle" fill="#1a1a1a" >H</text>
<line x1="48.20" y1="383.20" x2="58.00" y2="380.10" stroke="#1a1a1a" stroke-width="0.85" />
<line x1="56.90" y1="380.10" x2="56.90" y2="373.40" stroke="#1a1a1a" stroke-width="0.85" />
<line x1="59.10" y1="380.10" x2="59.10" y2="373.40" stroke="#1a1a1a" stroke-width="0.85" />
<text x="58.00" y="372.30" font-size="8.2" text-anchor="middle" fill="#1a1a1a" >O</text>
<path d="M58.00,380.10 L68.40,385.80 L77.80,380.00 L87.40,385.40" fill="none" stroke="#1a1a1a" stroke-width="0.85" stroke-linejoin="round"/>
<line x1="78.56" y1="382.51" x2="85.86" y2="386.61" stroke="#1a1a1a" stroke-width="0.85" />
<path d="M96.9,384.05H100.5M98.7,382.2V385.9" stroke="#555" stroke-width="1.1"/>
<text transform="translate(49.60,417.00) scale(0.8929,1)" font-size="8.74" text-anchor="middle" fill="#1a1a1a" ><tspan font-weight="bold">1a</tspan>, 1 equiv.</text>
<text transform="translate(105.5,378.2) scale(0.8929,1)" font-size="8.74" fill="#2f62b5">MeO<tspan font-size="5.94" dy="2.02">2</tspan><tspan dy="-2.02">C</tspan></text>
<line x1="132.00" y1="377.80" x2="138.20" y2="380.60" stroke="#2f62b5" stroke-width="0.85" />
<line x1="138.20" y1="380.60" x2="144.40" y2="377.80" stroke="#b03a78" stroke-width="0.85" />
<line x1="138.20" y1="380.60" x2="138.20" y2="387.50" stroke="#2f62b5" stroke-width="0.85" />
<text x="138.30" y="395.10" font-size="8.4" text-anchor="middle" fill="#2f62b5" >H</text>
<text transform="translate(145.0,378.2) scale(0.8929,1)" font-size="8.74" fill="#b03a78">SO<tspan font-size="5.94" dy="2.02">2</tspan><tspan dy="-2.02">F</tspan></text>
<text transform="translate(136.60,418.40) scale(0.8929,1)" font-size="8.74" text-anchor="middle" fill="#1a1a1a" ><tspan font-weight="bold">2a</tspan>, 3 equiv.</text>
<line x1="170.20" y1="383.60" x2="256.00" y2="383.60" stroke="#1a1a1a" stroke-width="0.8" />
<path d="M261.3,383.6 L255.5,381.5 L255.5,385.7 Z" fill="#1a1a1a"/>
<text transform="translate(212.80,369.80) scale(0.8929,1)" font-size="8.85" text-anchor="middle" fill="#1a1a1a" ><tspan font-weight="bold">[Pd–3aa]</tspan> (10 mol%)</text>
<text transform="translate(212.8,380.0) scale(0.8929,1)" font-size="8.85" text-anchor="middle" fill="#1a1a1a">Na<tspan font-size="5.94" dy="2.02">2</tspan><tspan dy="-2.02">CO</tspan><tspan font-size="5.94" dy="2.02">3</tspan><tspan dy="-2.02"> (1 equiv.)</tspan></text>
<text transform="translate(212.00,401.10) scale(0.8929,1)" font-size="8.85" text-anchor="middle" fill="#1a1a1a" >DMA (0.33 M), 80 °C</text>
<text transform="translate(211.6,411.3) scale(0.8929,1)" font-size="8.85" text-anchor="middle" fill="#1a1a1a">14 h, N<tspan font-size="5.94" dy="2.02">2</tspan></text>
<path d="M282.30,366.30 L291.57,371.65 L291.57,382.35 L282.30,387.70 L273.03,382.35 L273.03,371.65 Z" fill="none" stroke="#1a1a1a" stroke-width="0.85" stroke-linejoin="round"/>
<path d="M273.03,382.35 L263.77,387.70 L263.77,398.40 L273.03,403.75" fill="none" stroke="#1a1a1a" stroke-width="0.85" stroke-linejoin="round"/>
<line x1="273.03" y1="403.75" x2="279.18" y2="400.20" stroke="#1a1a1a" stroke-width="0.85" />
<line x1="282.30" y1="387.70" x2="282.30" y2="395.70" stroke="#1a1a1a" stroke-width="0.85" />
<line x1="275.65" y1="372.33" x2="281.58" y2="368.91" stroke="#1a1a1a" stroke-width="0.85" />
<line x1="289.67" y1="373.58" x2="289.67" y2="380.42" stroke="#1a1a1a" stroke-width="0.85" />
<line x1="281.58" y1="385.09" x2="275.65" y2="381.67" stroke="#1a1a1a" stroke-width="0.85" />
<line x1="265.67" y1="389.63" x2="265.67" y2="396.47" stroke="#1a1a1a" stroke-width="0.85" />
<line x1="273.03" y1="401.60" x2="277.95" y2="398.76" stroke="#1a1a1a" stroke-width="0.85" />
<text x="281.90" y="402.80" font-size="8" text-anchor="middle" fill="#1a1a1a" >N</text>
<line x1="291.57" y1="382.35" x2="298.70" y2="386.80" stroke="#1a1a1a" stroke-width="0.85" />
<text x="301.30" y="390.80" font-size="8" text-anchor="middle" fill="#1a1a1a" >N</text>
<text x="301.30" y="398.60" font-size="7.8" text-anchor="middle" fill="#1a1a1a" >H</text>
<line x1="304.00" y1="386.50" x2="311.30" y2="383.20" stroke="#1a1a1a" stroke-width="0.85" />
<line x1="310.20" y1="383.20" x2="310.20" y2="376.60" stroke="#1a1a1a" stroke-width="0.85" />
<line x1="312.40" y1="383.20" x2="312.40" y2="376.60" stroke="#1a1a1a" stroke-width="0.85" />
<text x="311.30" y="376.20" font-size="8.2" text-anchor="middle" fill="#1a1a1a" >O</text>
<path d="M311.30,383.20 L320.90,388.40 L330.30,382.60" fill="none" stroke="#1a1a1a" stroke-width="0.85" stroke-linejoin="round"/>
<path d="M330.30,382.60 L336.60,373.40 L342.10,383.20 Z" fill="none" stroke="#1a1a1a" stroke-width="0.85" stroke-linejoin="round"/>
<path d="M336.60,373.40 L337.60,366.60 L335.60,366.60 Z" fill="#1a1a1a"/>
<text transform="translate(334.2,366.2) scale(0.8929,1)" font-size="8.96" fill="#2f62b5">CO<tspan font-size="6.16" dy="2.02">2</tspan><tspan dy="-2.02">Me</tspan></text>
<text transform="translate(309.80,417.60) scale(0.8929,1)" font-size="8.85" text-anchor="middle" fill="#1a1a1a" >&gt;95% NMR yield</text>
</svg>
</body></html>
